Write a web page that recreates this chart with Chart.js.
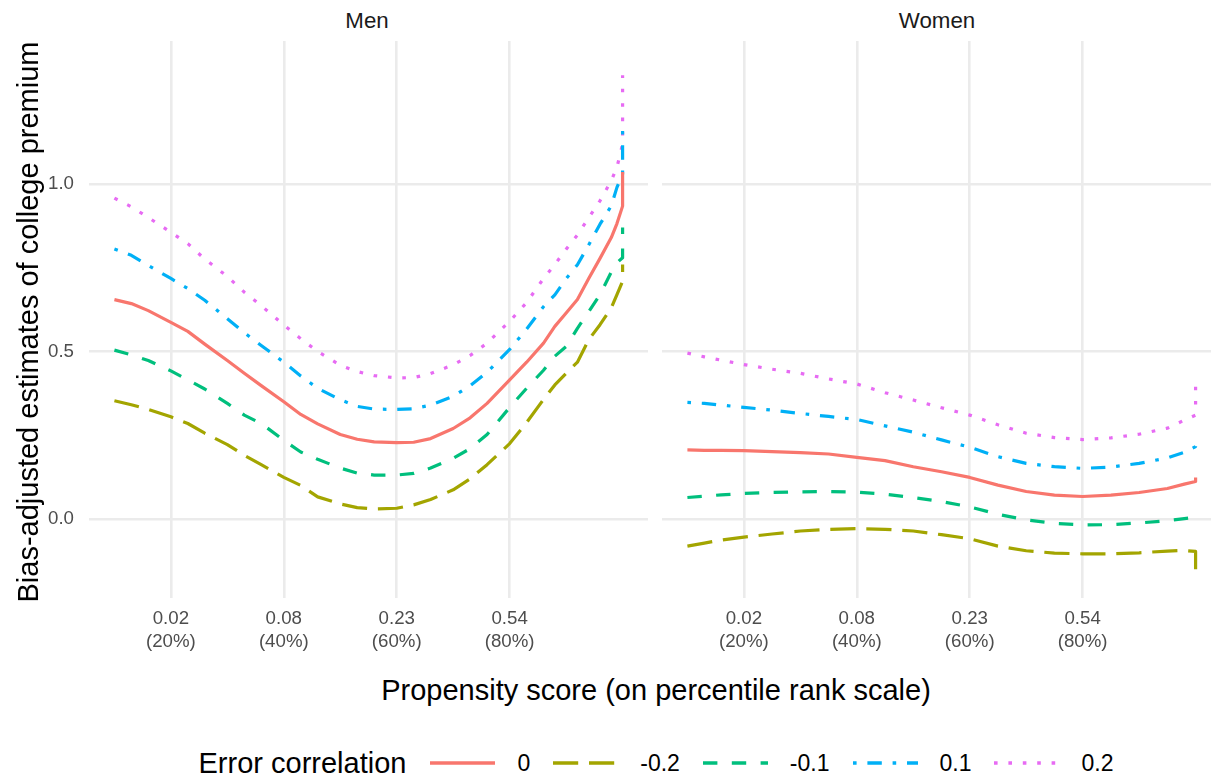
<!DOCTYPE html>
<html>
<head>
<meta charset="utf-8">
<script src="https://cdn.jsdelivr.net/npm/chart.js@4.4.0/dist/chart.umd.min.js"></script>
<style>
  html, body { margin: 0; padding: 0; background: #fff; width: 1211px; height: 776px; overflow: hidden;
               font-family: "Liberation Sans", Arial, sans-serif; }
  .panel { position: absolute; top: 41px; }
  .strip { position: absolute; top: 8px; width: 300px; text-align: center; font-size: 22.3px; line-height: 26px; color: #1A1A1A; }
  #xtitle { position: absolute; left: 256px; width: 800px; top: 673px; text-align: center; font-size: 29px; line-height: 34px; color: #000; }
  #ytitle { position: absolute; left: -272px; top: 305px; width: 600px; text-align: center; font-size: 29px; line-height: 34px;
            color: #000; transform: rotate(-90deg); }
  #legend { position: absolute; left: 156px; width: 1000px; top: 746px; height: 34px; display: flex; align-items: center; justify-content: center; }
  #legend .title { font-size: 29px; margin-right: 24px; }
  #legend .lab { font-size: 23px; margin-left: 22px; margin-right: 23px; }
  #legend .lab:last-child { margin-right: 0; }
</style>
</head>
<body>
<div class="strip" style="left:217px">Men</div>
<div class="strip" style="left:787px">Women</div>
<div class="panel" style="left:0"><canvas id="men" width="648" height="620"></canvas></div>
<div class="panel" style="left:662px"><canvas id="women" width="559" height="620"></canvas></div>
<div id="xtitle">Propensity score (on percentile rank scale)</div>
<div id="ytitle">Bias-adjusted estimates of college premium</div>
<div id="legend"></div>

<script>
// error correlation groups, in legend order
const seriesLabels = ['0', '-0.2', '-0.1', '0.1', '0.2'];
const seriesColors = ['#F8766D', '#A3A500', '#00BF7D', '#00B0F6', '#E76BF3'];
const seriesDashes = [[], [25.2, 10.8], [14.4, 14.4], [3.6, 10.8, 14.4, 10.8], [3.6, 10.8]];

const xTicks = [20, 40, 60, 80];
const xTickLabels = [['0.02', '(20%)'], ['0.08', '(40%)'], ['0.23', '(60%)'], ['0.54', '(80%)']];
const yTicks = [0, 0.5, 1.0];

// Men: percentile rank of propensity score
const menRank = [10, 13, 16, 20, 23, 26, 30, 33, 36, 40, 43, 46, 50, 53, 56, 60, 63, 66, 70, 73, 76, 80, 83, 86, 88, 90, 92, 94, 96, 98, 99, 100, 100];
const menRho0  = [0.655, 0.643, 0.622, 0.587, 0.560, 0.522, 0.473, 0.435, 0.398, 0.350, 0.312, 0.284, 0.252, 0.238, 0.230, 0.228, 0.229, 0.240, 0.270, 0.302, 0.345, 0.415, 0.468, 0.525, 0.575, 0.615, 0.655, 0.718, 0.778, 0.840, 0.882, 0.934, 1.036];
const menRhoM2 = [0.353, 0.341, 0.327, 0.305, 0.285, 0.256, 0.222, 0.190, 0.162, 0.124, 0.100, 0.066, 0.045, 0.034, 0.030, 0.032, 0.042, 0.058, 0.087, 0.120, 0.162, 0.225, 0.288, 0.357, 0.400, 0.435, 0.468, 0.535, 0.580, 0.630, 0.670, 0.710, 0.760];
const menRhoM1 = [0.504, 0.490, 0.473, 0.442, 0.415, 0.388, 0.345, 0.310, 0.285, 0.235, 0.200, 0.178, 0.152, 0.137, 0.131, 0.131, 0.136, 0.152, 0.181, 0.210, 0.252, 0.333, 0.390, 0.444, 0.486, 0.515, 0.569, 0.619, 0.670, 0.737, 0.765, 0.780, 0.870];
const menRhoP1 = [0.806, 0.787, 0.757, 0.718, 0.688, 0.653, 0.598, 0.556, 0.518, 0.468, 0.427, 0.390, 0.356, 0.336, 0.328, 0.327, 0.329, 0.340, 0.366, 0.398, 0.438, 0.506, 0.567, 0.634, 0.669, 0.717, 0.759, 0.818, 0.880, 0.935, 0.990, 1.030, 1.180];
const menRhoP2 = [0.958, 0.932, 0.900, 0.856, 0.822, 0.776, 0.724, 0.677, 0.637, 0.579, 0.538, 0.500, 0.459, 0.440, 0.428, 0.421, 0.422, 0.434, 0.460, 0.488, 0.525, 0.590, 0.646, 0.718, 0.760, 0.805, 0.848, 0.899, 0.950, 1.010, 1.050, 1.120, 1.325];

// Women
const womenRank = [10, 13, 16, 20, 25, 30, 35, 40, 45, 50, 55, 60, 65, 70, 75, 80, 85, 90, 95, 98, 100, 100];
const womenRho0  = [0.206, 0.205, 0.205, 0.204, 0.201, 0.198, 0.194, 0.184, 0.174, 0.156, 0.141, 0.124, 0.101, 0.082, 0.071, 0.067, 0.071, 0.079, 0.091, 0.104, 0.112, 0.124];
const womenRhoM2 = [-0.081, -0.072, -0.063, -0.054, -0.045, -0.036, -0.031, -0.029, -0.031, -0.036, -0.047, -0.059, -0.081, -0.095, -0.102, -0.104, -0.104, -0.101, -0.096, -0.094, -0.097, -0.157];
const womenRhoM1 = [0.064, 0.068, 0.072, 0.076, 0.079, 0.081, 0.082, 0.080, 0.074, 0.064, 0.052, 0.036, 0.014, -0.003, -0.013, -0.018, -0.017, -0.012, -0.005, 0.001, 0.005, 0.008];
const womenRhoP1 = [0.348, 0.345, 0.340, 0.333, 0.325, 0.315, 0.306, 0.297, 0.278, 0.259, 0.236, 0.214, 0.186, 0.166, 0.156, 0.151, 0.155, 0.166, 0.182, 0.199, 0.216, 0.246];
const womenRhoP2 = [0.495, 0.484, 0.474, 0.461, 0.447, 0.435, 0.418, 0.403, 0.377, 0.355, 0.332, 0.310, 0.281, 0.256, 0.243, 0.237, 0.242, 0.253, 0.271, 0.295, 0.310, 0.395];

const FONT = '"Liberation Sans", Arial, sans-serif';
const GRID = '#EBEBEB';

function makePanel(id, rank, series, showY) {
    const datasets = series.map(function (vals, i) {
        return {
            label: seriesLabels[i],
            data: rank.map(function (r, k) { return { x: r, y: vals[k] }; }),
            borderColor: seriesColors[i],
            borderDash: seriesDashes[i],
            borderWidth: 3.2,
            borderCapStyle: 'butt',
            borderJoinStyle: 'round',
            pointRadius: 0,
            tension: 0,
            fill: false
        };
    });

    return new Chart(document.getElementById(id), {
        type: 'line',
        data: { datasets: datasets },
        options: {
            responsive: false,
            animation: false,
            layout: { autoPadding: false, padding: 0 },
            plugins: { legend: { display: false }, tooltip: { enabled: false } },
            scales: {
                x: {
                    type: 'linear',
                    min: 5.5,
                    max: 104.5,
                    border: { display: false },
                    grid: { color: GRID, lineWidth: 2.6, drawTicks: false },
                    afterBuildTicks: function (s) { s.ticks = xTicks.map(function (v) { return { value: v }; }); },
                    afterFit: function (s) { s.height = 63; s.paddingLeft = 0; s.paddingRight = 0; },
                    ticks: {
                        padding: 10,
                        maxRotation: 0,
                        autoSkip: false,
                        color: '#4D4D4D',
                        font: { family: FONT, size: 18.7, lineHeight: 1.2 },
                        callback: function (v) { return xTickLabels[xTicks.indexOf(v)]; }
                    }
                },
                y: {
                    type: 'linear',
                    min: -0.236,
                    max: 1.427,
                    border: { display: false },
                    grid: { color: GRID, lineWidth: 2.6, drawTicks: false },
                    afterBuildTicks: function (s) { s.ticks = yTicks.map(function (v) { return { value: v }; }); },
                    afterFit: function (s) { s.width = showY ? 89 : 0; s.paddingTop = 0; s.paddingBottom = 0; },
                    ticks: {
                        display: showY,
                        padding: 15,
                        color: '#4D4D4D',
                        font: { family: FONT, size: 18.7 },
                        callback: function (v) { return v.toFixed(1); }
                    }
                }
            }
        }
    });
}

const menChart = makePanel('men', menRank, [menRho0, menRhoM2, menRhoM1, menRhoP1, menRhoP2], true);
makePanel('women', womenRank, [womenRho0, womenRhoM2, womenRhoM1, womenRhoP1, womenRhoP2], false);

// html legend built from the chart's datasets
const legend = document.getElementById('legend');
legend.innerHTML = '<span class="title">Error correlation</span>';
menChart.data.datasets.forEach(function (ds) {
    const dash = ds.borderDash.length ? ' stroke-dasharray="' + ds.borderDash.join(' ') + '"' : '';
    legend.insertAdjacentHTML('beforeend',
        '<svg width="65" height="20"><line x1="0" y1="10" x2="65" y2="10" stroke="' + ds.borderColor +
        '" stroke-width="3.4"' + dash + '/></svg><span class="lab">' + ds.label + '</span>');
});
</script>
</body>
</html>
